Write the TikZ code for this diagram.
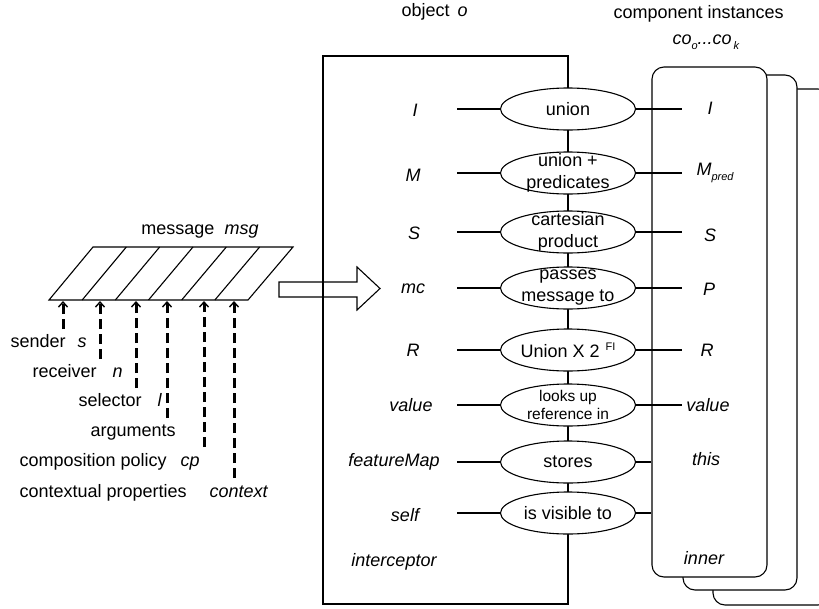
\documentclass[tikz,border=0pt]{standalone}
\usepackage{fontspec}
\setmainfont{Liberation Sans}
\usetikzlibrary{shapes.geometric,arrows.meta}

% small raised / lowered indices in text
\newcommand{\lowsub}[1]{\raisebox{-5pt}{\fontsize{11}{11}\selectfont #1}}
\newcommand{\highsup}[1]{\raisebox{7pt}{\fontsize{11}{11}\selectfont #1}}

\begin{document}
\begin{tikzpicture}[x=1pt,y=-1pt,line width=1.1pt,
  every node/.style={font=\fontsize{18}{22}\selectfont,inner sep=0pt},
  oval/.style={draw,fill=white,ellipse,minimum width=135pt,minimum height=42pt},
  lab/.style={font=\fontsize{18}{22}\selectfont\itshape},
  card/.style={draw,fill=white,rounded corners=12pt},
  feed/.style={line width=3pt,dash pattern=on 10pt off 5pt,
    -{Straight Barb[length=5pt,width=9pt,line width'=1.4pt]}}
]
\useasboundingbox (0,0) rectangle (819,608);

% ---- titles
\node[anchor=mid west] (tobj) at (401,14) {object\hspace{8pt}\textit{o}};
\node[anchor=mid west] (tcomp) at (613,16) {component instances};
\node[anchor=mid west,lab] (tco) at (672,42) {co\lowsub{o}...co\lowsub{\,k}};

% ---- stacked component instances (back to front)
\draw[card] (713,89) rectangle (830,605);
\draw[card] (683,75) rectangle (797,590);
\node[card,minimum width=115pt,minimum height=510pt] (front) at (709.5,322) {};

% ---- object box; its right side is the spine through the ovals
\node[draw,minimum width=245pt,minimum height=548pt] (obj) at (445.5,330) {};

% ---- message record
\draw (49,300) -- (248,300) -- (293,247) -- (93,247) -- cycle;
\foreach \k in {1,...,5}
  \draw ({49+33.17*\k},300) -- ({93+33.33*\k},247);
\node[anchor=mid] (tmsg) at (200,232) {message\hspace{10pt}\textit{msg}};

% ---- block arrow into the object
\draw (279,282) -- (357,282) -- (357,267) -- (380,288.5) -- (357,310)
      -- (357,297) -- (279,297) -- cycle;

% ---- message fields
\foreach \i/\x/\y in {1/63/329,2/100/359,3/136/388,4/167/418,5/204/447,6/234/478}{
  \coordinate (f\i) at (\x,301);
  \coordinate (g\i) at (\x,\y);
  \draw[feed] (g\i) -- (f\i);
}
\node[anchor=mid west] (ls) at (10,345) {sender\hspace{12pt}\textit{s}};
\node[anchor=mid west] (ln) at (32,375) {receiver\hspace{16pt}\textit{n}};
\node[anchor=mid west] (ll) at (78,404) {selector\hspace{16pt}\textit{l}};
\node[anchor=mid west] (la) at (90,434) {arguments};
\node[anchor=mid west] (lcp) at (19,464) {composition policy\hspace{14pt}\textit{cp}};
\node[anchor=mid west] (lctx) at (19,495) {contextual properties\hspace{23pt}\textit{context}};

% ---- ovals on the spine
\node[oval] (e1) at (568,109) {};
\node (t1) at (e1) {union};
\node[oval] (e2) at (568,173) {};
\node[align=center] (t2) at (e2) {union +\\predicates};
\node[oval] (e3) at (568,232) {};
\node[align=center] (t3) at (e3) {cartesian\\product};
\node[oval] (e4) at (568,288) {};
\node[align=center] (t4) at (e4) {passes\\message to};
\node[oval] (e5) at (568,350) {};
\node (t5) at (e5) {Union X 2\hspace{6pt}\highsup{FI}};
\node[oval] (e6) at (568,405) {};
\node[align=center,font=\fontsize{15.5}{18}\selectfont] (t6) at (e6) {looks up\\reference in};
\node[oval] (e7) at (568,462) {};
\node (t7) at (e7) {stores};
\node[oval] (e8) at (568,513) {};
\node (t8) at (e8) {is visible to};

% ---- object features
\node[lab] (oI) at (415,110) {I};
\node[lab] (oM) at (413,175) {M};
\node[lab] (oS) at (414,233) {S};
\node[lab] (omc) at (413,289) {mc};
\node[lab] (oR) at (413,350) {R};
\node[lab] (oval) at (411,405) {value};
\node[lab] (ofm) at (394,462) {featureMap};
\node[lab] (oself) at (405,515) {self};
\node[lab] (oint) at (394,562) {interceptor};

% ---- component features
\node[lab] (cI) at (710,108) {I};
\node[lab,anchor=mid west] (cM) at (696,173) {M\lowsub{pred}};
\node[lab] (cS) at (710,235) {S};
\node[lab] (cP) at (709,289) {P};
\node[lab] (cR) at (707,350) {R};
\node[lab] (cval) at (708,405) {value};
\node[lab] (cthis) at (706,459) {this};
\node[lab] (cinner) at (704,558) {inner};

% ---- connectors
\coordinate (lbeg) at (457,0);
\coordinate (rend) at (682,0);
\foreach \e in {e1,e2,e3,e4,e5,e6,e7,e8}
  \draw (lbeg |- \e.west) -- (\e.west);
\foreach \e in {e1,e2,e3,e4,e5,e6}
  \draw (\e.east) -- (\e.east -| rend);
\foreach \e in {e7,e8}
  \draw (\e.east) -- (\e.east -| front.west);
\end{tikzpicture}
\end{document}
